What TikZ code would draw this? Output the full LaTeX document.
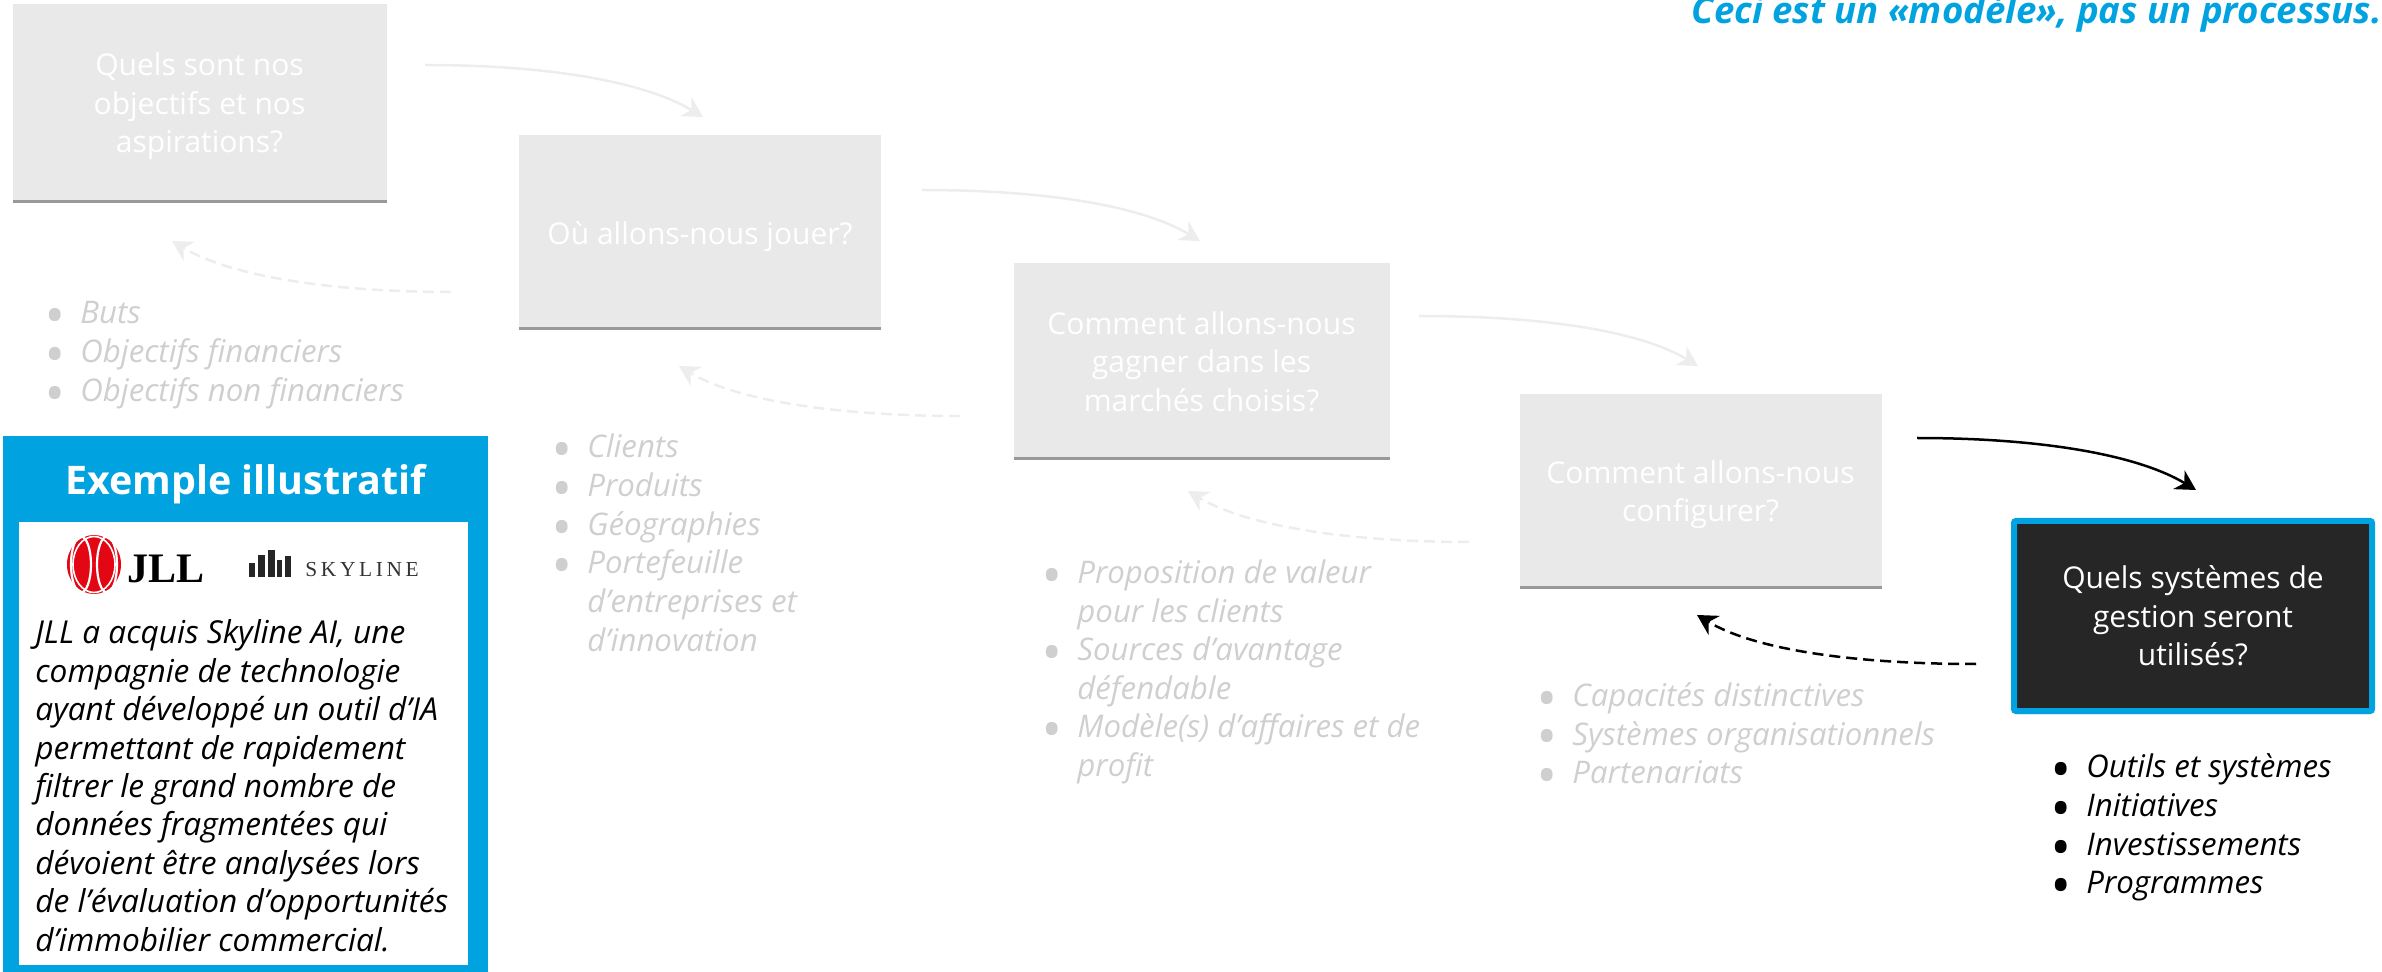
\documentclass[tikz,border=0pt]{standalone}
\usepackage{fontspec}
\setmainfont{Open Sans}
\newfontfamily\logofont{Liberation Serif}
\usetikzlibrary{arrows.meta, shadows}

\definecolor{bleu}{HTML}{00A3E0}
\definecolor{palebox}{HTML}{E9E9E9}
\definecolor{paleline}{HTML}{EDEDED}
\definecolor{paletext}{HTML}{CFCFCF}
\definecolor{sombre}{HTML}{262626}
\definecolor{rougejll}{HTML}{E30613}

\newcommand{\puce}{\makebox[17pt][l]{\hspace{-1.5pt}\raisebox{-0.38em}{\scalebox{1.8}{\textbullet}}}}
\newcommand{\decale}[1]{\rule{0pt}{#1}}

\tikzset{
  boxpale/.style={fill=palebox, text=white, align=center, minimum width=187pt, minimum height=96pt, inner sep=0pt,
    font=\fontsize{15}{19.3}\selectfont, drop shadow={shadow xshift=0pt, shadow yshift=-1.5pt, opacity=.4, fill=black}},
  boxactive/.style={fill=sombre, draw=bleu, line width=3pt, rounded corners=1pt, text=white, align=center, minimum width=179pt, minimum height=95pt, inner sep=0pt,
    font=\fontsize{15}{19.3}\selectfont, drop shadow={shadow xshift=0pt, shadow yshift=-1.5pt, opacity=.35, fill=black}},
  listpale/.style={anchor=north west, inner sep=0pt, text=paletext, font=\fontsize{15.6}{19.2}\selectfont\itshape},
  listactive/.style={listpale, text=black},
  arrowpale/.style={draw=paleline, line width=1.25pt, -{Stealth[length=10pt, width=11pt]}},
  arrowdash/.style={arrowpale, dash pattern=on 5.5pt off 3pt},
  arrowactive/.style={draw=black, line width=1.25pt, -{Stealth[length=10pt, width=11pt]}},
  arrowdashactive/.style={arrowactive, dash pattern=on 5.5pt off 3pt}
}

\begin{document}
\begin{tikzpicture}[x=0.5pt, y=-0.5pt]
  \useasboundingbox (0,0) rectangle (2382,972);

  \node[anchor=base east, inner sep=0pt, text=bleu, font=\fontsize{18.3}{20}\selectfont\bfseries\itshape] (note) at (2382,24) {Ceci est un «modèle», pas un processus.};

  % boxes
  \node[boxpale, minimum height=98pt] (objectifs) at (199.5,102) {\decale{16pt}Quels sont nos\\objectifs et nos\\aspirations?};
  \node[boxpale, minimum width=181pt] (jouer) at (700,231) {\decale{17.3pt}Où allons-nous jouer?};
  \node[boxpale, minimum width=188pt, minimum height=97pt] (gagner) at (1201.5,360) {\decale{13pt}Comment allons-nous\\gagner dans les\\marchés choisis?};
  \node[boxpale, minimum width=181pt] (configurer) at (1700.5,490) {\decale{16pt}Comment allons-nous\\configurer?};
  \node[boxactive] (gestion) at (2193,616) {Quels systèmes de\\gestion seront\\utilisés?};

  % lists
  \node[listpale] (listeobjectifs) at (46,296.5) {\begin{tabular}{@{}l@{}l@{}}
    \puce&Buts\\ \puce&Objectifs financiers\\ \puce&Objectifs non financiers
  \end{tabular}};
  \node[listpale] (listejouer) at (553,430.5) {\begin{tabular}{@{}l@{}l@{}}
    \puce&Clients\\ \puce&Produits\\ \puce&Géographies\\ \puce&Portefeuille\\ &d’entreprises et\\ &d’innovation
  \end{tabular}};
  \node[listpale] (listegagner) at (1043,556) {\begin{tabular}{@{}l@{}l@{}}
    \puce&Proposition de valeur\\ &pour les clients\\ \puce&Sources d’avantage\\ &défendable\\ \puce&Modèle(s) d’affaires et de\\ &profit
  \end{tabular}};
  \node[listpale] (listeconfigurer) at (1538,679) {\begin{tabular}{@{}l@{}l@{}}
    \puce&Capacités distinctives\\ \puce&Systèmes organisationnels\\ \puce&Partenariats
  \end{tabular}};
  \node[listactive] (listegestion) at (2052,750.5) {\begin{tabular}{@{}l@{}l@{}}
    \puce&Outils et systèmes\\ \puce&Initiatives\\ \puce&Investissements\\ \puce&Programmes
  \end{tabular}};

  % forward arrows
  \coordinate (a1) at (425,65);
  \coordinate (b1) at (703,117);
  \coordinate (a2) at (922,190);
  \coordinate (b2) at (1200,241);
  \coordinate (a3) at (1419,316);
  \coordinate (b3) at (1698,366);
  \coordinate (a4) at (1917,438);
  \coordinate (b4) at (2196,490);
  \draw[arrowpale] (a1) .. controls (550,65) and (645,82) .. (b1);
  \draw[arrowpale] (a2) .. controls (1047,190) and (1142,206) .. (b2);
  \draw[arrowpale] (a3) .. controls (1544,316) and (1640,331) .. (b3);
  \draw[arrowactive] (a4) .. controls (2042,438) and (2138,455) .. (b4);

  % back arrows
  \coordinate (c1) at (451,292);
  \coordinate (d1) at (172,241);
  \coordinate (c2) at (960,416);
  \coordinate (d2) at (679,366);
  \coordinate (c3) at (1469,542);
  \coordinate (d3) at (1188,491);
  \coordinate (c4) at (1976,664);
  \coordinate (d4) at (1697,615);
  \draw[arrowdash] (c1) .. controls (330,292) and (230,276) .. (d1);
  \draw[arrowdash] (c2) .. controls (839,416) and (737,401) .. (d2);
  \draw[arrowdash] (c3) .. controls (1348,542) and (1246,526) .. (d3);
  \draw[arrowdashactive] (c4) .. controls (1855,664) and (1755,650) .. (d4);

  % example panel
  \node[fill=bleu, minimum width=242.5pt, minimum height=268pt, inner sep=0pt] (cadre) at (245.5,704) {};
  \node[fill=white, minimum width=224.5pt, minimum height=221.5pt, inner sep=0pt] (fond) at (243.5,743.5) {};
  \node[text=white, font=\fontsize{19.7}{22}\selectfont\bfseries] (titre) at (245.5,484) {Exemple illustratif};
  \node[anchor=north west, inner sep=0pt, align=left, font=\fontsize{15.8}{19.2}\selectfont\itshape] (exemple) at (35,619.5) {JLL a acquis Skyline AI, une\\compagnie de technologie\\ayant développé un outil d’IA\\permettant de rapidement\\filtrer le grand nombre de\\données fragmentées qui\\dévoient être analysées lors\\de l’évaluation d’opportunités\\d’immobilier commercial.};

  % logos
  \fill[rougejll] (94,564.5) ellipse (27 and 29.5);
  \draw[white, line width=1.1pt] (81,564.5) ellipse (10 and 28);
  \draw[white, line width=1.1pt] (107,564.5) ellipse (10 and 28);
  \draw[white, line width=0.8pt] (94,564.5) ellipse (21 and 28);
  \node[anchor=base west, inner sep=0pt, font=\fontsize{21}{25}\logofont\bfseries] (jll) at (127,582) {JLL};
  \fill[black!85] (249,563) rectangle (255,577);
  \fill[black!85] (258,555) rectangle (265,577);
  \fill[black!85] (268,550) rectangle (275,577);
  \fill[black!85] (277,560) rectangle (282,577);
  \fill[black!85] (285,556) rectangle (291,577);
  \node[anchor=base west, inner sep=0pt, text=black!80, font=\fontsize{10.7}{12}\logofont\addfontfeature{LetterSpace=17}] (skyline) at (305,577) {SKYLINE};
\end{tikzpicture}
\end{document}
